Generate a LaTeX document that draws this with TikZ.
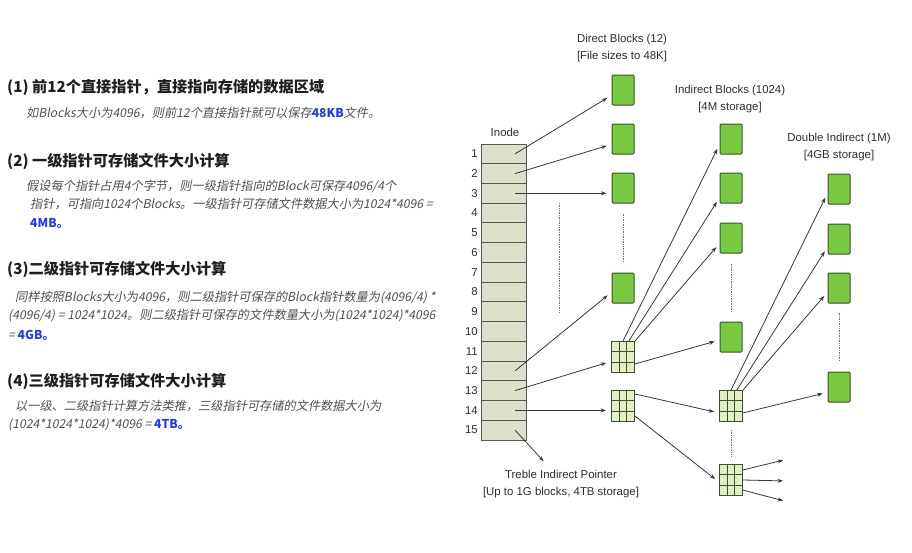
\documentclass[tikz,border=0pt]{standalone}
\usepackage{fontspec}
\setmainfont{Liberation Sans}
\newfontfamily\cjk{Noto Sans CJK SC}[AutoFakeSlant=0.2]
\usepackage{xcolor}
\definecolor{blk_green}{RGB}{122,201,67}
\definecolor{blk_edge}{RGB}{58,82,40}
\definecolor{grid_fill}{RGB}{228,238,198}
\definecolor{inode_fill}{RGB}{222,224,204}
\definecolor{txt_gray}{RGB}{80,80,80}
\definecolor{hl_blue}{RGB}{40,60,210}
\usetikzlibrary{arrows.meta,calc}

\begin{document}
\begin{tikzpicture}[x=1pt, y=-1pt, >={Stealth[length=5.5pt,width=4pt]},
  datablk/.style={draw=blk_edge, fill=blk_green, line width=1pt, minimum width=22pt, minimum height=30pt, inner sep=0pt, rounded corners=1pt},
  ptrblk/.style={draw=blk_edge, fill=grid_fill, line width=1pt, minimum width=23pt, minimum height=31pt, inner sep=0pt,
    path picture={\foreach \f in {0.3333,0.6667} {
      \draw[blk_edge, line width=0.9pt] ($(path picture bounding box.north west)!\f!(path picture bounding box.north east)$) -- ($(path picture bounding box.south west)!\f!(path picture bounding box.south east)$);
      \draw[blk_edge, line width=0.9pt] ($(path picture bounding box.north west)!\f!(path picture bounding box.south west)$) -- ($(path picture bounding box.north east)!\f!(path picture bounding box.south east)$);}}},
  inodecell/.style={draw=black!65, fill=inode_fill, line width=0.9pt, minimum width=45pt, minimum height=19.73pt, inner sep=0pt},
  ptr/.style={->, draw=black!78, line width=0.8pt, shorten >=5pt},
  elide/.style={densely dotted, draw=gray!90!black, line width=0.7pt},
  lbl/.style={font=\fontsize{11.4}{17}\selectfont, text=black!82, align=center, inner sep=0pt},
  headline/.style={anchor=west, inner sep=0pt, font=\cjk\bfseries\fontsize{15.2}{17}\selectfont, text=black!88},
  noteline/.style={anchor=west, inner sep=0pt, font=\cjk\itshape\fontsize{12.2}{14}\selectfont, text=txt_gray}
]
\fill[white] (0,0) rectangle (912,552);
\useasboundingbox (0,0) rectangle (912,552);

% left column: the notes
\node[headline] (h1) at (7,88) {(1) 前12个直接指针，直接指向存储的数据区域};
\node[noteline] (n1a) at (26,113) {如Blocks大小为4096，则前12个直接指针就可以保存{\color{hl_blue}\bfseries 48KB}文件。};
\node[headline] (h2) at (7,161) {(2) 一级指针可存储文件大小计算};
\node[noteline] (n2a) at (26,186) {假设每个指针占用4个字节，则一级指针指向的Block可保存4096/4个};
\node[noteline] (n2b) at (30,204) {指针，可指向1024个Blocks。一级指针可存储文件数据大小为1024*4096 =};
\node[noteline] (n2c) at (30,223) {\color{hl_blue}\bfseries 4MB。};
\node[headline] (h3) at (7,269) {(3)二级指针可存储文件大小计算};
\node[noteline] (n3a) at (15,298) {同样按照Blocks大小为4096，则二级指针可保存的Block指针数量为(4096/4) *};
\node[noteline] (n3b) at (8,316) {(4096/4) = 1024*1024。则二级指针可保存的文件数量大小为(1024*1024)*4096};
\node[noteline] (n3c) at (8,335) {= {\color{hl_blue}\bfseries 4GB。}};
\node[headline] (h4) at (7,381) {(4)三级指针可存储文件大小计算};
\node[noteline] (n4a) at (15,406) {以一级、二级指针计算方法类推，三级指针可存储的文件数据大小为};
\node[noteline] (n4b) at (8,425) {(1024*1024*1024)*4096 = {\color{hl_blue}\bfseries 4TB。}};

% inode table
\node[lbl] (inode) at (505,132) {Inode};
\foreach \i in {1,...,15} {
  \node[inodecell] (c\i) at (504,134.13+19.73*\i) {};
  \node[lbl, anchor=east] (num\i) at (478,134.13+19.73*\i) {\i};
  \coordinate (p\i) at ([xshift=11pt]c\i.center);
}

% blocks
\node[datablk] (d1) at (623,90) {};
\node[datablk] (d2) at (623,139) {};
\node[datablk] (d3) at (623,188) {};
\node[datablk] (d4) at (623,288) {};
\node[ptrblk] (g1) at (623,357) {};
\node[ptrblk] (g2) at (623,406) {};

\node[datablk] (i1) at (731,139) {};
\node[datablk] (i2) at (731,188) {};
\node[datablk] (i3) at (731,238) {};
\node[datablk] (i4) at (731,337) {};
\node[ptrblk] (cg) at (731,406) {};
\node[ptrblk] (tg) at (731,480) {};

\node[datablk] (dd1) at (839,189) {};
\node[datablk] (dd2) at (839,239) {};
\node[datablk] (dd3) at (839,288) {};
\node[datablk] (dd4) at (839,387) {};

\node[lbl] (dtitle) at (622,48.5) {Direct Blocks (12)\\{}[File sizes to 48K]};
\node[lbl] (ititle) at (730,99) {Indirect Blocks (1024)\\{}[4M storage]};
\node[lbl] (ddtitle) at (839,147.5) {Double Indirect (1M)\\{}[4GB storage]};
\node[lbl] (ttitle) at (561,484) {Treble Indirect Pointer\\{}[Up to 1G blocks, 4TB storage]};

% pointers out of the inode
\draw[ptr] (p1) -- (d1.205);
\draw[ptr] (p2) -- (d2.205);
\draw[ptr] (p3) -- (p3 -| d3.west);
\draw[ptr] (p12) -- (d4.200);
\draw[ptr] (p13) -- (g1.200);
\draw[ptr, line width=1.1pt] (p14) -- (p14 -| g2.west);
\coordinate (tp) at (547,465);
\draw[ptr] (p15) -- (tp);

% indirect pointers
\draw[ptr] (g1.north) -- (i1.205);
\draw[ptr] (g1.70) -- (i2.220);
\draw[ptr] (g1.north east) -- (i3.205);
\draw[ptr] (g1.-30) -- (i4.195);
\draw[ptr] (g2.45) -- (cg.210);
\draw[ptr] (g2.-40) -- (tg.190);
\draw[ptr] (cg.north) -- (dd1.200);
\draw[ptr] (cg.70) -- (dd2.215);
\draw[ptr] (cg.north east) -- (dd3.200);
\draw[ptr] (cg.-30) -- (dd4.205);

\coordinate (t1) at (788,459);
\coordinate (t2) at (788,481);
\coordinate (t3) at (788,502);
\draw[ptr] (tg.40) -- (t1);
\draw[ptr] (tg.east) -- (t2);
\draw[ptr] (tg.-40) -- (t3);

% elided entries
\draw[elide, shorten <=10pt, shorten >=10pt] (d3.south) -- (d4.north);
\draw[elide, shorten <=10pt, shorten >=9pt] (i3.south) -- (i4.north);
\draw[elide, shorten <=8pt, shorten >=7pt] (cg.south) -- (tg.north);
\draw[elide, shorten <=9pt, shorten >=10pt] (dd3.south) -- (dd4.north);
\coordinate (gapA) at (559,203);
\coordinate (gapB) at (559,312);
\draw[elide] (gapA) -- (gapB);

\end{tikzpicture}
\end{document}
